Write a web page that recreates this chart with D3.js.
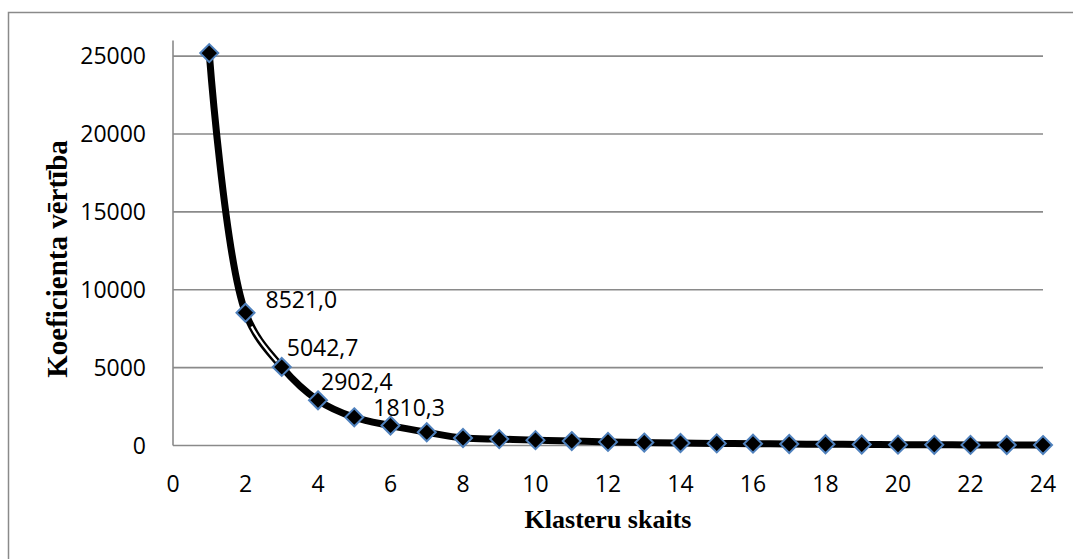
<!DOCTYPE html>
<html>
<head>
<meta charset="utf-8">
<script src="https://cdn.jsdelivr.net/npm/d3@7"></script>
<style>
  html, body { margin: 0; padding: 0; background: #fff; }
  svg { display: block; }
</style>
</head>
<body>
<svg id="chart" width="1073" height="559"></svg>
<script>
// Cluster count vs. coefficient value (elbow curve)
const clusters = [1, 2, 3, 4, 5, 6, 7, 8, 9, 10, 11, 12, 13, 14, 15, 16, 17, 18, 19, 20, 21, 22, 23, 24];
const coefValues = [25190, 8521.0, 5042.7, 2902.4, 1810.3, 1280, 850, 480, 410, 345, 285, 230, 190, 160, 135, 115, 95, 80, 65, 55, 45, 38, 32, 27];
const xTicks = [0, 2, 4, 6, 8, 10, 12, 14, 16, 18, 20, 22, 24];
const yTicks = [0, 5000, 10000, 15000, 20000, 25000];
const labeledClusters = [2, 3, 4, 5];
// label placement relative to its point (dx to left edge, dy to text middle)
const labelOffsets = [[20, -13], [5, -19], [3, -18], [19, -9]];

const xTitle = "Klasteru skaits";
const yTitle = "Koeficienta vērtība";

const svg = d3.select("#chart");
const gridColor = "#8a8a8a";
const tickFont = "'Open Sans', 'Noto Sans', sans-serif";
const titleFont = "'Liberation Serif', 'Times New Roman', serif";

const x = d3.scaleLinear().domain([0, 24]).range([173, 1043]);
const y = d3.scaleLinear().domain([0, 26000]).range([445.5, 40.5]);

const data = clusters.map((c, i) => ({ c, v: coefValues[i] }));

// chart frame (only top and left edges fall inside the canvas)
svg.append("rect")
  .attr("x", 8.5).attr("y", 12.5)
  .attr("width", 1200).attr("height", 700)
  .attr("fill", "none")
  .attr("stroke", gridColor)
  .attr("stroke-width", 1.5);

// horizontal gridlines
svg.append("g").selectAll("line")
  .data(yTicks)
  .join("line")
  .attr("x1", x(0)).attr("x2", x(24))
  .attr("y1", d => y(d)).attr("y2", d => y(d))
  .attr("stroke", gridColor)
  .attr("stroke-width", 1.6);

// vertical axis line
svg.append("line")
  .attr("x1", x(0)).attr("x2", x(0))
  .attr("y1", y(26000)).attr("y2", y(0))
  .attr("stroke", gridColor)
  .attr("stroke-width", 1.6);

// y tick labels
svg.append("g").selectAll("text")
  .data(yTicks)
  .join("text")
  .attr("x", 146)
  .attr("y", d => y(d))
  .attr("dy", "0.35em")
  .attr("text-anchor", "end")
  .attr("font-family", tickFont)
  .attr("font-size", 23)
  .attr("fill", "#000")
  .text(d => d);

// x tick labels
svg.append("g").selectAll("text")
  .data(xTicks)
  .join("text")
  .attr("x", d => x(d))
  .attr("y", 492)
  .attr("text-anchor", "middle")
  .attr("font-family", tickFont)
  .attr("font-size", 23)
  .attr("fill", "#000")
  .text(d => d);

// smoothed series line
const line = d3.line()
  .x(d => x(d.c))
  .y(d => y(d.v))
  .curve(d3.curveCatmullRom.alpha(0.5));

const mainPath = svg.append("path")
  .datum(data)
  .attr("d", line)
  .attr("fill", "none")
  .attr("stroke", "#000")
  .attr("stroke-width", 7)
  .attr("stroke-linejoin", "round");

// thin light core along the stretch between clusters 2 and 3
(function () {
  const node = mainPath.node();
  const total = node.getTotalLength();
  function lengthAtX(px) {
    let lo = 0, hi = total;
    for (let k = 0; k < 40; k++) {
      const mid = (lo + hi) / 2;
      if (node.getPointAtLength(mid).x < px) lo = mid; else hi = mid;
    }
    return (lo + hi) / 2;
  }
  const a = lengthAtX(x(2) + 6);
  const b = lengthAtX(x(3) - 5);
  svg.append("path")
    .datum(data)
    .attr("d", line)
    .attr("fill", "none")
    .attr("stroke", "#fff")
    .attr("stroke-width", 2.2)
    .attr("stroke-dasharray", `0 ${a} ${b - a} ${total}`);
})();

// diamond markers
const half = 9;
svg.append("g").selectAll("path")
  .data(data)
  .join("path")
  .attr("transform", d => `translate(${x(d.c)},${y(d.v)})`)
  .attr("d", `M0,${-half}L${half},0L0,${half}L${-half},0Z`)
  .attr("fill", "#000")
  .attr("stroke", "#4f81bd")
  .attr("stroke-width", 2);

// value labels
const fmt = d3.formatLocale({ decimal: ",", thousands: "", grouping: [3], currency: ["", ""] }).format(".1f");
svg.append("g").selectAll("text")
  .data(labeledClusters)
  .join("text")
  .attr("x", (c, i) => x(c) + labelOffsets[i][0])
  .attr("y", (c, i) => y(coefValues[clusters.indexOf(c)]) + labelOffsets[i][1])
  .attr("dy", "0.35em")
  .attr("font-family", tickFont)
  .attr("font-size", 23)
  .attr("fill", "#000")
  .text(c => fmt(coefValues[clusters.indexOf(c)]));

// axis titles
svg.append("text")
  .attr("x", 608)
  .attr("y", 528)
  .attr("text-anchor", "middle")
  .attr("font-family", titleFont)
  .attr("font-weight", "bold")
  .attr("font-size", 26)
  .attr("fill", "#000")
  .text(xTitle);

svg.append("text")
  .attr("transform", "translate(67,259) rotate(-90)")
  .attr("text-anchor", "middle")
  .attr("font-family", titleFont)
  .attr("font-weight", "bold")
  .attr("font-size", 29)
  .attr("fill", "#000")
  .text(yTitle);
</script>
</body>
</html>
